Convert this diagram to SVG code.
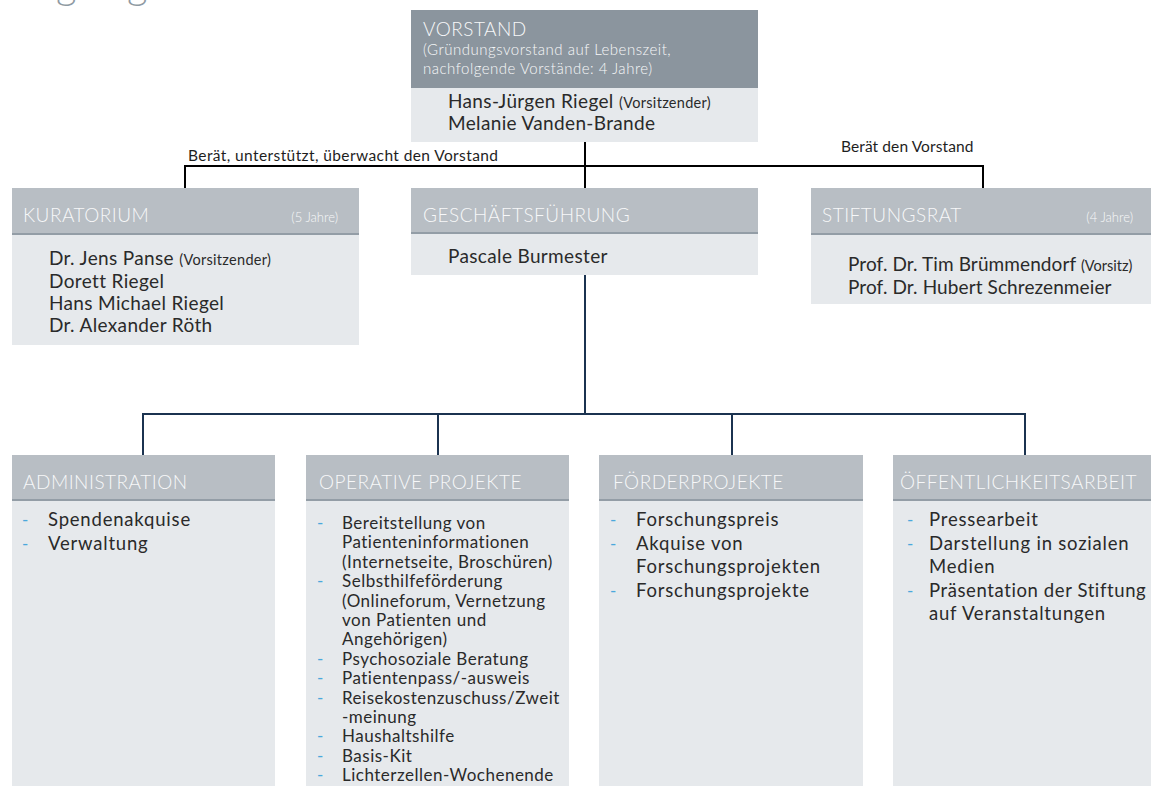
<svg xmlns="http://www.w3.org/2000/svg" width="1151" height="786" viewBox="0 0 1151 786">
<style>
text{font-family:Lato,"Liberation Sans",sans-serif;}
.hd{fill:#b8bec4;}
.hdd{fill:#8b959e;}
.bd{fill:#e6e9ec;}
.sep{stroke:#939da6;stroke-width:2;}
.ht{fill:#f7f8f9;font-size:19px;font-weight:300;letter-spacing:0.5px;}
.hs{fill:#f7f8f9;font-size:13px;font-weight:300;}
.vs{fill:#f7f8f9;font-size:15px;font-weight:300;letter-spacing:0.5px;}
.nm{fill:#2a2a2a;font-size:19px;letter-spacing:0.35px;}
.sm{font-size:14.5px;letter-spacing:0.3px;}
.it{fill:#2a2a2a;font-size:18.5px;letter-spacing:0.8px;}
.op{fill:#2a2a2a;font-size:17px;letter-spacing:0.5px;}
.ds{fill:#4aa8dc;font-size:17px;}
.lb{fill:#1e1e1e;font-size:15.5px;letter-spacing:0.4px;}
.c1{stroke:#000;stroke-width:2;fill:none;}
.c2{stroke:#1b3350;stroke-width:2;fill:none;}
.tt{fill:#8f9aa3;font-size:40px;font-weight:300;}
</style>
<text class="tt" x="56" y="-1">g</text>
<text class="tt" x="127" y="-1">g</text>

<g id="connectors">
<path class="c1" d="M585 142 V188 M185 188 V166 H983 V188"/>
<path class="c2" d="M585 275 V414 M143 455 V414 H1025 V455 M438 414 V455 M732 414 V455"/>
<text class="lb" x="188" y="161">Berät, unterstützt, überwacht den Vorstand</text>
<text class="lb" x="841" y="152" style="letter-spacing:0.1px">Berät den Vorstand</text>
</g>

<g id="vorstand">
<rect class="hdd" x="411" y="10" width="347" height="78"/>
<rect class="bd" x="411" y="88" width="347" height="54"/>
<text class="ht" x="423" y="36">VORSTAND</text>
<text class="vs" x="423" y="55">(Gründungsvorstand auf Lebenszeit,</text>
<text class="vs" x="423" y="74">nachfolgende Vorstände: 4 Jahre)</text>
<text class="nm" x="448" y="108">Hans-Jürgen Riegel <tspan class="sm">(Vorsitzender)</tspan></text>
<text class="nm" x="448" y="130">Melanie Vanden-Brande</text>
</g>

<g id="kuratorium">
<rect class="hd" x="12" y="188" width="347" height="46"/>
<rect class="bd" x="12" y="234" width="347" height="111"/>
<line class="sep" x1="12" y1="234" x2="359" y2="234"/>
<text class="ht" x="23" y="222">KURATORIUM</text>
<text class="hs" x="338" y="222" text-anchor="end">(5 Jahre)</text>
<text class="nm" x="49" y="265">Dr. Jens Panse <tspan class="sm">(Vorsitzender)</tspan></text>
<text class="nm" x="49" y="288">Dorett Riegel</text>
<text class="nm" x="49" y="310">Hans Michael Riegel</text>
<text class="nm" x="49" y="332">Dr. Alexander Röth</text>
</g>

<g id="geschaeftsfuehrung">
<rect class="hd" x="411" y="188" width="347" height="45"/>
<rect class="bd" x="411" y="233" width="347" height="42"/>
<line class="sep" x1="411" y1="233" x2="758" y2="233"/>
<text class="ht" x="423" y="222">GESCHÄFTSFÜHRUNG</text>
<text class="nm" x="448" y="263">Pascale Burmester</text>
</g>

<g id="stiftungsrat">
<rect class="hd" x="811" y="188" width="340" height="46"/>
<rect class="bd" x="811" y="234" width="340" height="70"/>
<line class="sep" x1="811" y1="234" x2="1151" y2="234"/>
<text class="ht" x="822" y="222">STIFTUNGSRAT</text>
<text class="hs" x="1133" y="222" text-anchor="end">(4 Jahre)</text>
<text class="nm" x="848" y="271" style="letter-spacing:0.1px">Prof. Dr. Tim Brümmendorf <tspan class="sm" style="letter-spacing:0px">(Vorsitz)</tspan></text>
<text class="nm" x="848" y="294" style="letter-spacing:0.1px">Prof. Dr. Hubert Schrezenmeier</text>
</g>

<g id="administration">
<rect class="hd" x="12" y="455" width="263" height="45"/>
<rect class="bd" x="12" y="500" width="263" height="286"/>
<line class="sep" x1="12" y1="500" x2="275" y2="500"/>
<text class="ht" x="23" y="489">ADMINISTRATION</text>
<text class="ds" x="22" y="526">-</text><text class="it" x="48" y="526">Spendenakquise</text>
<text class="ds" x="22" y="550">-</text><text class="it" x="48" y="550">Verwaltung</text>
</g>

<g id="operative">
<rect class="hd" x="306" y="455" width="263" height="45"/>
<rect class="bd" x="306" y="500" width="263" height="286"/>
<line class="sep" x1="306" y1="500" x2="569" y2="500"/>
<text class="ht" x="319" y="489">OPERATIVE PROJEKTE</text>
<text class="ds" x="317" y="529">-</text><text class="op" x="342" y="529">Bereitstellung von</text>
<text class="op" x="342" y="548.4">Patienteninformationen</text>
<text class="op" x="342" y="567.8">(Internetseite, Broschüren)</text>
<text class="ds" x="317" y="587.2">-</text><text class="op" x="342" y="587.2">Selbsthilfeförderung</text>
<text class="op" x="342" y="606.6">(Onlineforum, Vernetzung</text>
<text class="op" x="342" y="626">von Patienten und</text>
<text class="op" x="342" y="645.4">Angehörigen)</text>
<text class="ds" x="317" y="664.8">-</text><text class="op" x="342" y="664.8">Psychosoziale Beratung</text>
<text class="ds" x="317" y="684.2">-</text><text class="op" x="342" y="684.2">Patientenpass/-ausweis</text>
<text class="ds" x="317" y="703.6">-</text><text class="op" x="342" y="703.6">Reisekostenzuschuss/Zweit</text>
<text class="op" x="342" y="723">-meinung</text>
<text class="ds" x="317" y="742.4">-</text><text class="op" x="342" y="742.4">Haushaltshilfe</text>
<text class="ds" x="317" y="761.8">-</text><text class="op" x="342" y="761.8">Basis-Kit</text>
<text class="ds" x="317" y="781.2">-</text><text class="op" x="342" y="781.2">Lichterzellen-Wochenende</text>
</g>

<g id="foerderprojekte">
<rect class="hd" x="599" y="455" width="264" height="45"/>
<rect class="bd" x="599" y="500" width="264" height="286"/>
<line class="sep" x1="599" y1="500" x2="863" y2="500"/>
<text class="ht" x="613" y="489">FÖRDERPROJEKTE</text>
<text class="ds" x="610" y="526">-</text><text class="it" x="636" y="526">Forschungspreis</text>
<text class="ds" x="610" y="550">-</text><text class="it" x="636" y="550">Akquise von</text>
<text class="it" x="636" y="573">Forschungsprojekten</text>
<text class="ds" x="610" y="597">-</text><text class="it" x="636" y="597">Forschungsprojekte</text>
</g>

<g id="oeffentlichkeitsarbeit">
<rect class="hd" x="893" y="455" width="258" height="45"/>
<rect class="bd" x="893" y="500" width="258" height="286"/>
<line class="sep" x1="893" y1="500" x2="1151" y2="500"/>
<text class="ht" x="900" y="489">ÖFFENTLICHKEITSARBEIT</text>
<text class="ds" x="907" y="526">-</text><text class="it" x="929" y="526">Pressearbeit</text>
<text class="ds" x="907" y="550">-</text><text class="it" x="929" y="550">Darstellung in sozialen</text>
<text class="it" x="929" y="573">Medien</text>
<text class="ds" x="907" y="597">-</text><text class="it" x="929" y="597" style="letter-spacing:0.6px">Präsentation der Stiftung</text>
<text class="it" x="929" y="620">auf Veranstaltungen</text>
</g>
</svg>
